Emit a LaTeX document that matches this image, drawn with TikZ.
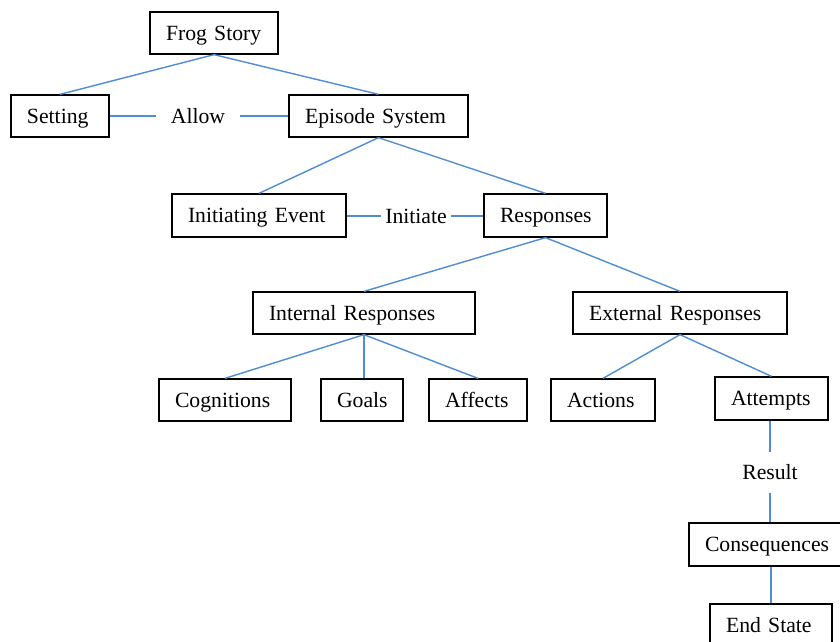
\documentclass[tikz,border=0pt]{standalone}
\usepackage{fontspec}
\setmainfont{Liberation Serif}
\definecolor{linkblue}{RGB}{79,141,214}
\begin{document}
\begin{tikzpicture}[x=1pt,y=-1pt,
  every node/.style={font=\fontsize{21.7}{26}\selectfont, text height=14.5pt, text depth=0pt},
  sbox/.style={draw=black, line width=1.3pt, align=left, inner xsep=16pt, inner ysep=0pt, minimum height=#1},
  sbox/.default=42pt,
  lbl/.style={inner sep=0pt},
  link/.style={draw=linkblue, line width=1.4pt}]
\clip (0,0) rectangle (840,641);
\fill[white] (0,0) rectangle (840,641);
% boxes
\node[sbox, text width=96pt] (frog) at (214,33) {\mbox{Frog Story}};
\node[sbox, text width=66pt] (setting) at (60,116) {\mbox{Setting}};
\node[sbox, text width=147pt] (episode) at (378.5,116) {\mbox{Episode System}};
\node[sbox=43pt, text width=142pt] (init) at (259,215.5) {\mbox{Initiating Event}};
\node[sbox=43pt, text width=91pt] (resp) at (545.5,215.5) {\mbox{Responses}};
\node[sbox, text width=190pt] (internal) at (364,313) {\mbox{Internal Responses}};
\node[sbox, text width=182pt] (external) at (680,313) {\mbox{External Responses}};
\node[sbox, text width=100pt] (cogn) at (225,400) {\mbox{Cognitions}};
\node[sbox, text width=50pt] (goals) at (362,400) {\mbox{Goals}};
\node[sbox, text width=66pt] (affects) at (478,400) {\mbox{Affects}};
\node[sbox, text width=72pt] (actions) at (603,400) {\mbox{Actions}};
\node[sbox=43pt, text width=81pt] (attempts) at (771.5,398.5) {\mbox{Attempts}};
\node[sbox=43pt, text width=120pt] (conseq) at (765,544.5) {\mbox{Consequences}};
\node[sbox=43pt, text width=90pt] (endstate) at (771,625.5) {\mbox{End State}};
% labels
\node[lbl, minimum width=83pt] (allow) at (198,116) {Allow};
\node[lbl, minimum width=69pt] (initiate) at (416,216) {Initiate};
\node[lbl, minimum height=41pt] (result) at (770,472.5) {Result};
% connectors
\draw[link] (frog.south) -- (setting.north);
\draw[link] (frog.south) -- (episode.north);
\draw[link] (setting.east) -- (allow.west);
\draw[link] (allow.east) -- (episode.west);
\draw[link] (episode.south) -- (init.north);
\draw[link] (episode.south) -- (resp.north);
\draw[link] (initiate.west -| init.east) -- (initiate.west);
\draw[link] (initiate.east) -- (initiate.east -| resp.west);
\draw[link] (resp.south) -- (internal.north);
\draw[link] (resp.south) -- (external.north);
\draw[link] (internal.south) -- (cogn.north);
\draw[link] (internal.south) -- (internal.south |- goals.north);
\draw[link] (internal.south) -- (affects.north);
\draw[link] (external.south) -- (actions.north);
\draw[link] (external.south) -- (attempts.north);
\draw[link] (result.north |- attempts.south) -- (result.north);
\draw[link] (result.south) -- (result.south |- conseq.north);
\draw[link] (endstate.north |- conseq.south) -- (endstate.north);
\end{tikzpicture}
\end{document}
